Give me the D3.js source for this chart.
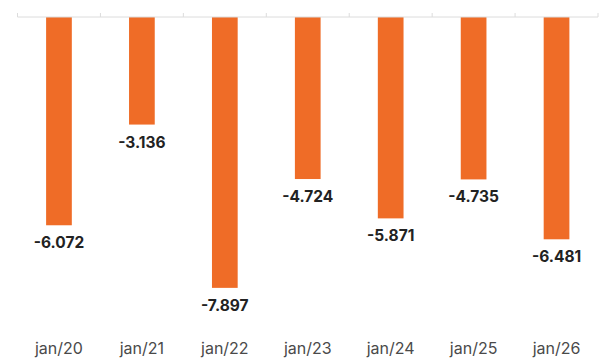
<!DOCTYPE html>
<html><head><meta charset="utf-8">
<script src="https://cdn.jsdelivr.net/npm/d3@7"></script>
<style>body{margin:0;background:#fff}svg{display:block}</style>
</head><body>
<svg id="c" width="600" height="363"></svg>
<script>
const categories = ["jan/20","jan/21","jan/22","jan/23","jan/24","jan/25","jan/26"];
const values = [-6.072,-3.136,-7.897,-4.724,-5.871,-4.735,-6.481];
const labels = ["-6.072","-3.136","-7.897","-4.724","-5.871","-4.735","-6.481"];

const svg = d3.select("#c");
const x = d3.scaleBand().domain(categories).range([17.5, 598]).paddingInner(0.69).paddingOuter(0.345);
const y = d3.scaleLinear().domain([0, -9]).range([17, 325.7]);

svg.selectAll("rect.bar").data(values).join("rect")
  .attr("class","bar")
  .attr("x",(d,i)=>x(categories[i]))
  .attr("width",x.bandwidth())
  .attr("y",y(0))
  .attr("height",d=>y(d)-y(0))
  .attr("fill","#ef6c27");

// axis line at top with upward ticks at band boundaries
const bounds = d3.range(categories.length+1).map(i=>17.5+i*x.step());
svg.append("line").attr("x1",17.5).attr("x2",598).attr("y1",17).attr("y2",17)
  .attr("stroke","#dcdcdc").attr("stroke-width",1);
svg.selectAll("line.tick").data(bounds).join("line").attr("class","tick")
  .attr("x1",d=>d).attr("x2",d=>d).attr("y1",13).attr("y2",17)
  .attr("stroke","#dcdcdc").attr("stroke-width",1);

svg.selectAll("text.val").data(values).join("text")
  .attr("class","val")
  .attr("x",(d,i)=>x(categories[i])+x.bandwidth()/2)
  .attr("y",d=>y(d)+23)
  .attr("text-anchor","middle")
  .attr("font-family","Inter, 'Noto Sans', sans-serif")
  .attr("font-weight","700")
  .attr("font-size","15.5px")
  .attr("fill","#222")
  .text((d,i)=>labels[i]);

svg.selectAll("text.cat").data(categories).join("text")
  .attr("class","cat")
  .attr("x",d=>x(d)+x.bandwidth()/2)
  .attr("y",354)
  .attr("text-anchor","middle")
  .attr("font-family","Inter, 'Noto Sans', sans-serif")
  .attr("font-size","16px")
  .attr("fill","#4a4a4a")
  .text(d=>d);
</script>
</body></html>
